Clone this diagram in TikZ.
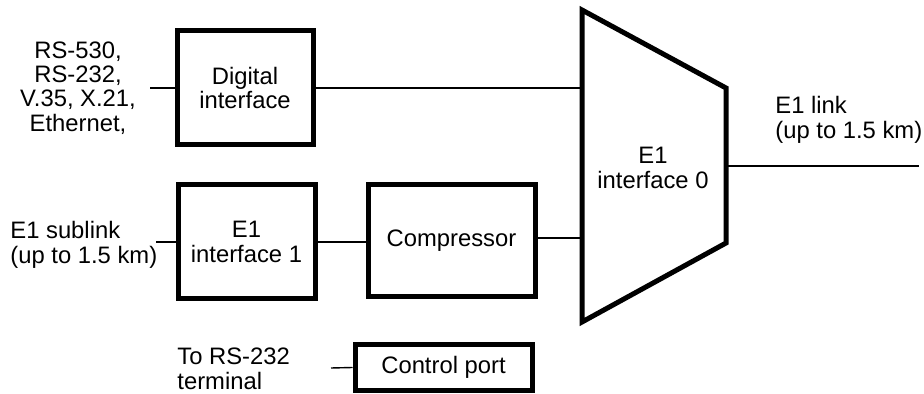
\documentclass[tikz,border=0pt]{standalone}
\usepackage{fontspec}
\setmainfont{Liberation Sans}
\begin{document}
\begin{tikzpicture}[x=0.5pt,y=-0.5pt,
        box/.style={draw,line width=2.5pt,inner sep=0pt,align=center},
        lbl/.style={inner sep=0pt},
        wire/.style={line width=0.7pt}]
    \fontsize{11.9}{12.2}\selectfont
    \useasboundingbox (0,0) rectangle (924,394);

    % blocks
    \node[box,minimum width=68pt,minimum height=57pt] (dig) at (245,88) {Digital\\interface};
    \node[box,minimum width=68.5pt,minimum height=57pt] (e1a) at (246.5,242) {E1\\interface 1};
    \node[box,minimum width=83.5pt,minimum height=56pt] (comp) at (451.5,241) {Compressor};
    \node[box,minimum width=88.5pt,minimum height=22.5pt] (ctl) at (443.5,367.5) {Control port};

    % E1 interface 0
    \draw[line width=2.5pt] (582,10) -- (726,88) -- (726,243) -- (582,322) -- cycle;
    \node[lbl,align=center] (mux) at (653,168) {E1\\interface 0};
    \coordinate (muxl) at (582,166);
    \coordinate (muxr) at (726,166);

    % outside labels
    \node[lbl,align=center] (ports) at (78,88) {RS-530,\\RS-232,\\V.35, X.21,\\Ethernet,};
    \node[lbl,align=left,anchor=west] (sub) at (10,245) {E1 sublink\\(up to 1.5 km)};
    \node[lbl,align=left,anchor=west] (term) at (177,369) {To RS-232\\terminal};
    \node[lbl,align=left,anchor=west] (link) at (775,120) {E1 link\\(up to 1.5 km)};

    \coordinate (portsin) at (150,88);
    \coordinate (subin) at (156,242);
    \coordinate (termin) at (331,368);
    \coordinate (linkout) at (919,166);

    % wires
    \draw[wire] (portsin) -- (dig.west);
    \draw[wire] (dig.east) -- (dig.east -| muxl);
    \draw[wire] (subin) -- (e1a.west);
    \draw[wire] (e1a.east) -- (e1a.east -| comp.west);
    \draw[wire] ([yshift=1.5pt]comp.east) -- ([yshift=1.5pt]comp.east -| muxl);
    \draw[wire] (termin) -- (ctl.west);
    \draw[wire] (muxr) -- (linkout);
\end{tikzpicture}
\end{document}
